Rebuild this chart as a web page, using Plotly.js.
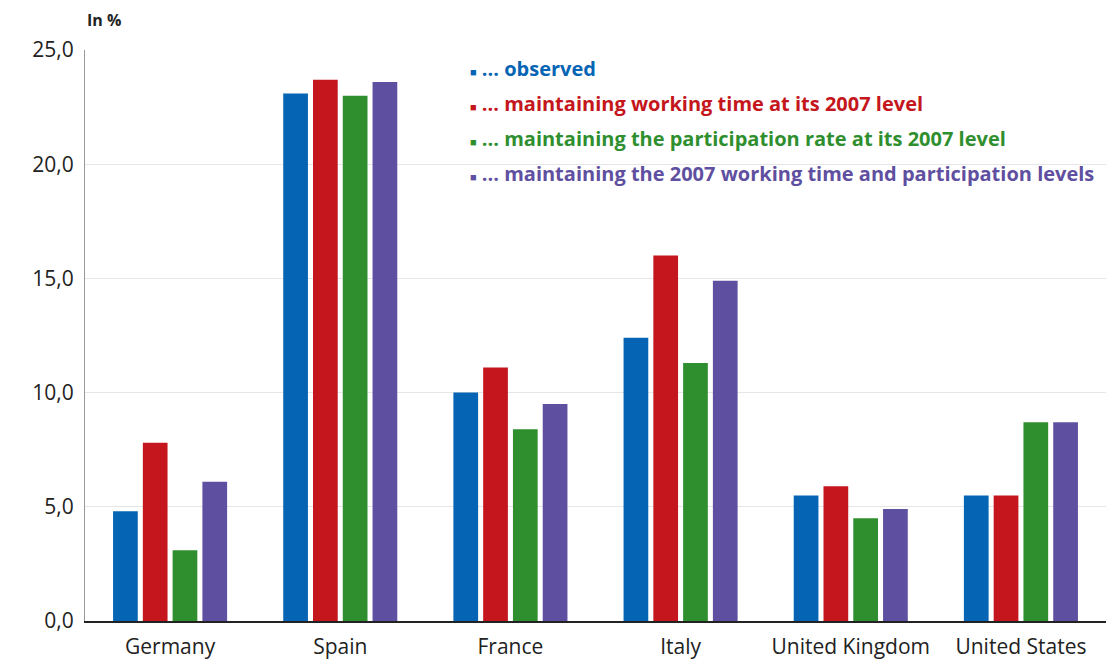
<!DOCTYPE html>
<html>
<head>
<meta charset="utf-8">
<script src="https://cdn.plot.ly/plotly-3.0.1.min.js"></script>
<style>body{margin:0;background:#fff}#graph{width:1108px;height:664px}</style>
</head>
<body>
<div id="graph"></div>
<script>
var countries = ['Germany', 'Spain', 'France', 'Italy', 'United Kingdom', 'United States'];
var observed = [4.8, 23.1, 10.0, 12.4, 5.5, 5.5];
var workingTime = [7.8, 23.7, 11.1, 16.0, 5.9, 5.5];
var participation = [3.1, 23.0, 8.4, 11.3, 4.5, 8.7];
var both = [6.1, 23.6, 9.5, 14.9, 4.9, 8.7];
var seriesNames = [
    '... observed',
    '... maintaining working time at its 2007 level',
    '... maintaining the participation rate at its 2007 level',
    '... maintaining the 2007 working time and participation levels'
];
var colors = ['#0565b4', '#c4161c', '#2f8f2f', '#5f4fa0'];
var values = [observed, workingTime, participation, both];

var data = values.map(function(v, i) {
    return {x: countries, y: v, type: 'bar', name: seriesNames[i],
            marker: {color: colors[i]}};
});

// legend drawn as coloured annotations
var annotations = seriesNames.map(function(n, i) {
    return {xref: 'paper', yref: 'paper', x: 0.375, y: 0.968 - i*0.0613,
            xanchor: 'left', yanchor: 'middle', showarrow: false,
            text: '<span style="font-size:11px">■</span> ' + n,
            font: {family: 'Open Sans', size: 20, color: colors[i], weight: 'bold'}};
});
annotations.push({xref: 'paper', yref: 'paper', x: -0.0, y: 1.03, xanchor: 'left',
    yanchor: 'bottom', showarrow: false, text: '<b>In %</b>',
    font: {family: 'Open Sans', size: 16, color: '#222'}});

var layout = {
    showlegend: false,
    barmode: 'group',
    bargap: 0.3,
    bargroupgap: 0.17,
    separators: ',.',
    margin: {l: 85, r: 2, t: 50, b: 43},
    font: {family: 'Open Sans', size: 21, color: '#222'},
    xaxis: {showline: true, linecolor: '#222', linewidth: 1.5, ticks: '', ticklabelstandoff: 6,
            tickfont: {size: 21}},
    yaxis: {range: [0, 25], dtick: 5, tickformat: '.1f', gridcolor: '#e6e6e6',
            showline: true, linecolor: '#999', ticks: '', zeroline: false,
            ticklabelstandoff: 6, tickfont: {size: 21}},
    annotations: annotations,
    plot_bgcolor: '#fff',
    paper_bgcolor: '#fff'
};

Plotly.newPlot('graph', data, layout, {staticPlot: true});
</script>
</body>
</html>
